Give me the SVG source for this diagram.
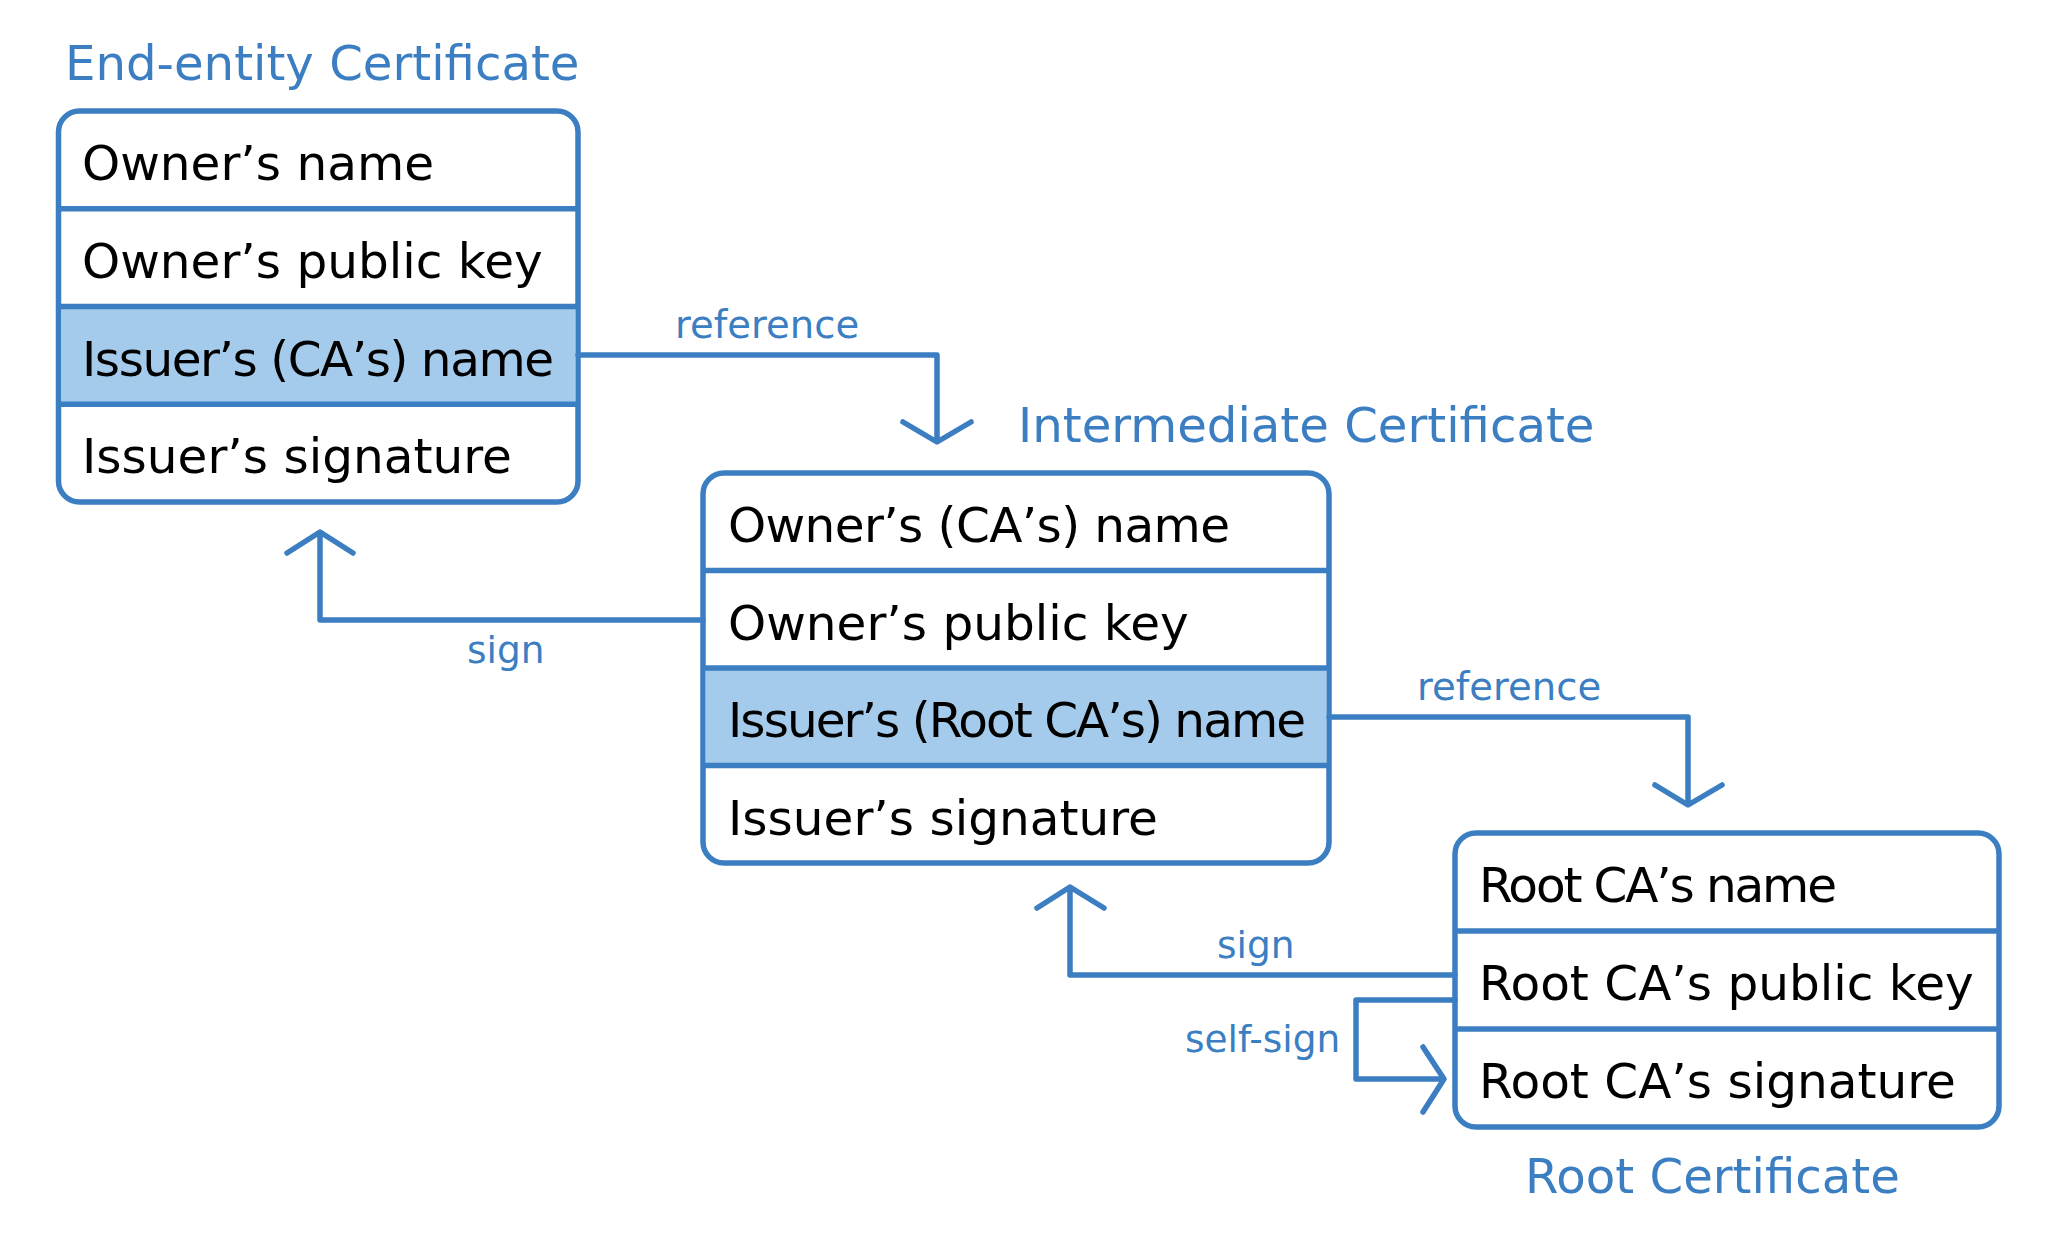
<svg xmlns="http://www.w3.org/2000/svg" width="2052" height="1250" viewBox="0 0 2052 1250">
  <style>
    .frame { fill: #ffffff; stroke: #3b7ec2; stroke-width: 5.5; }
    .hl { fill: #a4cbeb; stroke: none; }
    .div { stroke: #3b7ec2; stroke-width: 5.5; fill: none; }
    .row { font-family: "DejaVu Sans", "Liberation Sans", sans-serif; font-size: 48.5px; fill: #000000; }
    .title { font-family: "DejaVu Sans", "Liberation Sans", sans-serif; font-size: 48.2px; fill: #3b7ec2; }
    .lbl { font-family: "DejaVu Sans", "Liberation Sans", sans-serif; font-size: 37.5px; fill: #3b7ec2; }
    .ref { font-size: 38.6px; }
    .conn { stroke: #3b7ec2; stroke-width: 5.5; fill: none; stroke-linecap: round; stroke-linejoin: round; }
  </style>
  <rect width="2052" height="1250" fill="#ffffff"/>

  <g id="end-entity">
    <text class="title" x="65" y="80">End-entity Certificate</text>
    <rect class="frame" x="58.5" y="111" width="519.5" height="391" rx="21"/>
    <rect class="hl" x="61" y="306.5" width="514.5" height="97.75"/>
    <path class="div" d="M58.5 208.75H578M58.5 306.5H578M58.5 404.25H578"/>
    <text class="row" x="82" y="180">Owner’s name</text>
    <text class="row" x="82" y="277.75">Owner’s public key</text>
    <text class="row" x="82" y="375.5" textLength="472" lengthAdjust="spacing">Issuer’s (CA’s) name</text>
    <text class="row" x="82" y="473.25">Issuer’s signature</text>
  </g>

  <g id="intermediate">
    <text class="title" x="1018" y="442">Intermediate Certificate</text>
    <rect class="frame" x="703" y="473" width="626" height="390" rx="21"/>
    <rect class="hl" x="705.5" y="668" width="621" height="97.5"/>
    <path class="div" d="M703 570.5H1329M703 668H1329M703 765.5H1329"/>
    <text class="row" x="728" y="542" textLength="502" lengthAdjust="spacing">Owner’s (CA’s) name</text>
    <text class="row" x="728" y="639.5">Owner’s public key</text>
    <text class="row" x="728" y="737" textLength="578" lengthAdjust="spacing">Issuer’s (Root CA’s) name</text>
    <text class="row" x="728" y="834.5">Issuer’s signature</text>
  </g>

  <g id="root">
    <rect class="frame" x="1455" y="833" width="544" height="294" rx="21"/>
    <path class="div" d="M1455 931H1999M1455 1029H1999"/>
    <text class="row" x="1479" y="902" textLength="358" lengthAdjust="spacing">Root CA’s name</text>
    <text class="row" x="1479" y="1000">Root CA’s public key</text>
    <text class="row" x="1479" y="1098">Root CA’s signature</text>
    <text class="title" x="1525" y="1193">Root Certificate</text>
  </g>

  <g id="connectors">
    <path class="conn" d="M578 355H937V441M903 422L937 442L971 422"/>
    <text class="lbl ref" x="675" y="338">reference</text>

    <path class="conn" d="M703 620H320V533M287 553L320 532L353 553"/>
    <text class="lbl" x="467" y="663">sign</text>

    <path class="conn" d="M1329 717H1688V804M1655 785L1688 805L1722 785"/>
    <text class="lbl ref" x="1417" y="700">reference</text>

    <path class="conn" d="M1455 975H1070V888M1037 908L1070 887L1104 908"/>
    <text class="lbl" x="1217" y="958">sign</text>

    <path class="conn" d="M1455 1000H1356V1079H1443M1423 1047L1444 1079L1423 1112"/>
    <text class="lbl" x="1185" y="1052">self-sign</text>
  </g>
</svg>
